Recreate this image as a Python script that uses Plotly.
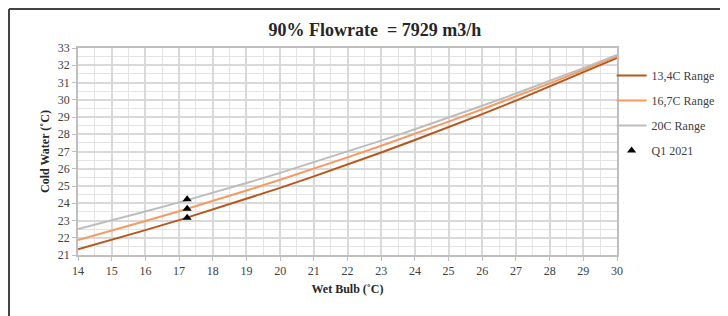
import plotly.graph_objects as go

wet_bulb = [14, 15, 16, 17, 18, 19, 20, 21, 22, 23, 24, 25, 26, 27, 28, 29, 30]
range_134 = [21.33, 21.87, 22.44, 23.02, 23.63, 24.25, 24.89, 25.56, 26.24, 26.94,
             27.67, 28.41, 29.17, 29.95, 30.76, 31.58, 32.42]
range_167 = [21.87, 22.41, 22.97, 23.54, 24.13, 24.74, 25.36, 26.00, 26.66, 27.33,
             28.02, 28.73, 29.45, 30.19, 30.95, 31.73, 32.52]
range_20 = [22.50, 23.00, 23.52, 24.05, 24.60, 25.17, 25.76, 26.37, 26.99, 27.63,
            28.29, 28.96, 29.65, 30.36, 31.09, 31.83, 32.60]
q1_x = [17.24, 17.24, 17.24]
q1_y = [23.16, 23.68, 24.23]

FONT = "Liberation Serif, Times New Roman, serif"

fig = go.Figure()
fig.add_trace(go.Scatter(x=wet_bulb, y=range_134, mode="lines", name="13,4C Range",
                         line=dict(color="#B8561B", width=2), legendgroup="a"))
fig.add_trace(go.Scatter(x=wet_bulb, y=range_167, mode="lines", name="16,7C Range",
                         line=dict(color="#F79A62", width=2), legendgroup="b"))
fig.add_trace(go.Scatter(x=wet_bulb, y=range_20, mode="lines", name="20C Range",
                         line=dict(color="#BDBDBD", width=2), legendgroup="c"))
fig.add_trace(go.Scatter(x=q1_x, y=q1_y, mode="markers", name="Q1 2021",
                         marker=dict(symbol="triangle-up", color="black", size=8),
                         legendgroup="d"))

axis_common = dict(
    showgrid=True, gridcolor="#D9D9D9", gridwidth=1.5,
    showline=True, linecolor="#BFBFBF", linewidth=1.5, mirror=True,
    ticks="outside", ticklen=4, tickcolor="#BFBFBF",
    tickfont=dict(family=FONT, size=12, color="#404040"),
    zeroline=False,
)

fig.update_xaxes(range=[14, 30], dtick=1, tick0=14,
                 minor=dict(dtick=0.5, showgrid=True, gridcolor="#E3E3E3", gridwidth=1),
                 title=dict(text="<b>Wet Bulb (˚C)</b>", font=dict(family=FONT, size=12, color="#262626"),
                            standoff=7),
                 **axis_common)
fig.update_yaxes(range=[21, 33], dtick=1, tick0=21,
                 minor=dict(dtick=0.5, showgrid=True, gridcolor="#E3E3E3", gridwidth=1),
                 title=dict(text="<b>Cold Water (˚C)</b>", font=dict(family=FONT, size=12, color="#262626"),
                            standoff=6),
                 **axis_common)

# outer frame (left and top edges)
fig.add_shape(type="line", xref="paper", yref="paper", x0=-0.128, x1=1.3, y0=1.188, y1=1.188,
              line=dict(color="#444444", width=2))
fig.add_shape(type="line", xref="paper", yref="paper", x0=-0.128, x1=-0.128, y0=1.188, y1=-0.4,
              line=dict(color="#444444", width=2))

fig.update_layout(
    width=728, height=316,
    margin=dict(l=70, r=119, t=40, b=69),
    paper_bgcolor="white", plot_bgcolor="white",
    title=dict(text="<b>90% Flowrate  = 7929 m3/h</b>", x=0.504, xanchor="center",
               y=0.93, yanchor="middle",
               font=dict(family=FONT, size=18, color="#262626")),
    showlegend=True,
    legend=dict(x=0.99, y=0.937, xanchor="left", yanchor="top",
                font=dict(family=FONT, size=12, color="#404040"),
                traceorder="grouped", tracegroupgap=6, itemwidth=30,
                bgcolor="rgba(0,0,0,0)"),
)

fig.write_html("out.html")
